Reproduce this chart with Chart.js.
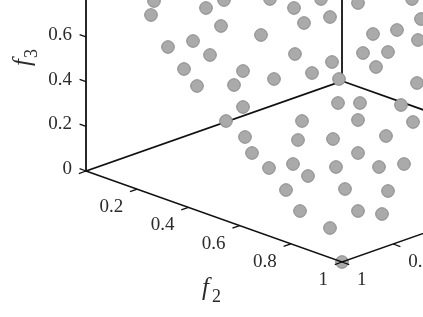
<!DOCTYPE html>
<html>
<head>
<meta charset="utf-8">
<title>f1 f2 f3 scatter</title>
<script src="https://cdn.jsdelivr.net/npm/chart.js@4"></script>
<style>
  html, body { margin: 0; padding: 0; background: #fff; overflow: hidden; }
  canvas { display: block; }
</style>
</head>
<body>
<canvas id="myChart" width="423" height="317"></canvas>
<script>
// points (projected position)
var pointX = [154,151,206,168,193,210,184,197,224,270,294,321,330,304,221,261,295,332,312,243,234,274,243,339,226,
  358,412,373,397,421,418,363,388,376,417,338,360,401,413,302,358,245,298,333,386,252,358,269,293,308,336,379,404,
  286,345,388,300,358,382,330,342];
var pointY = [1,15,8,47,41,55,69,86,0,-1,8,-1,17,23,26,35,54,62,73,71,85,79,107,79,121,
  3,-1,34,30,19,40,53,52,67,83,103,103,105,122,121,120,137,140,139,136,153,153,168,164,176,167,167,164,
  190,189,191,211,211,214,228,262];

var f1Ticks = [1, 0.8, 0.6, 0.4, 0.2, 0];
var f2Ticks = [0, 0.2, 0.4, 0.6, 0.8, 1];
var f3Ticks = [0, 0.2, 0.4, 0.6, 0.8, 1];

// the 3d box is a plain linear projection
function project(f1, f2, f3) {
  return { x: 342 - 256 * f1 + 256 * f2, y: 81 + 90 * f1 + 91 * f2 - 223.5 * f3 };
}

var gap = { x: null, y: null };
var backLines = [project(1,0,1), project(1,0,0), project(0,0,0), project(0,0,1), gap, project(0,0,0), project(0,1,0)];
var frontLines = [project(1,0,0), project(1,1,0), project(0,1,0)];
var tickLines = [];
f3Ticks.forEach(function (t) { tickLines.push(project(1,0,t), project(1,-0.025,t), gap); });
f2Ticks.forEach(function (t) { tickLines.push(project(1,t,0), project(1.028,t,0), gap); });
f1Ticks.forEach(function (t) { tickLines.push(project(t,1,0), project(t,1.028,0), gap); });

function tickText(t) { return String(t); }

const boxLabels = {
  id: "boxLabels",
  afterDraw: function (chart) {
    var ctx = chart.ctx;
    var sx = chart.scales.x, sy = chart.scales.y;
    function put(text, p, dx, dy, align) {
      ctx.textAlign = align;
      ctx.fillText(text, sx.getPixelForValue(p.x) + dx, sy.getPixelForValue(p.y) + dy);
    }
    ctx.save();
    ctx.fillStyle = "#2b2b2b";
    ctx.textBaseline = "middle";
    ctx.font = "19px 'Liberation Serif'";
    f3Ticks.forEach(function (t) { put(tickText(t), project(1,0,t), -14, -2, "right"); });
    f2Ticks.forEach(function (t) { if (t > 0) put(tickText(t), project(1,t,0), -14, 18, "right"); });
    f1Ticks.forEach(function (t) { if (t > 0) put(tickText(t), project(t,1,0), 15, 18, "left"); });

    // axis names
    ctx.textAlign = "left";
    ctx.font = "italic 25px 'Liberation Serif'";
    ctx.fillText("f", 202, 288);
    ctx.font = "18px 'Liberation Serif'";
    ctx.fillText("2", 212, 297);
    ctx.translate(26, 60);
    ctx.rotate(-Math.PI / 2);
    ctx.font = "italic 25px 'Liberation Serif'";
    ctx.fillText("f", -6, -3);
    ctx.font = "18px 'Liberation Serif'";
    ctx.fillText("3", 2, 6);
    ctx.restore();
  }
};

new Chart("myChart", {
  type: "scatter",
  data: {
    datasets: [
      { data: tickLines, showLine: true, borderColor: "#111", borderWidth: 1.3, pointRadius: 0, order: 1 },
      { data: frontLines, showLine: true, borderColor: "#111", borderWidth: 1.6, pointRadius: 0, order: 1 },
      {
        data: pointX.map(function (x, i) { return { x: x, y: pointY[i] }; }),
        pointRadius: 6.3,
        pointBackgroundColor: "#aaaaaa",
        pointBorderColor: "#888888",
        pointBorderWidth: 1,
        order: 2
      },
      { data: backLines, showLine: true, borderColor: "#111", borderWidth: 1.8, pointRadius: 0, order: 3 }
    ]
  },
  options: {
    responsive: false,
    animation: false,
    layout: { padding: 0, autoPadding: false },
    plugins: { legend: { display: false }, tooltip: { enabled: false } },
    scales: {
      x: { type: "linear", display: false, min: 0, max: 423 },
      y: { type: "linear", display: false, min: 0, max: 317, reverse: true }
    }
  },
  plugins: [boxLabels]
});
</script>
</body>
</html>
